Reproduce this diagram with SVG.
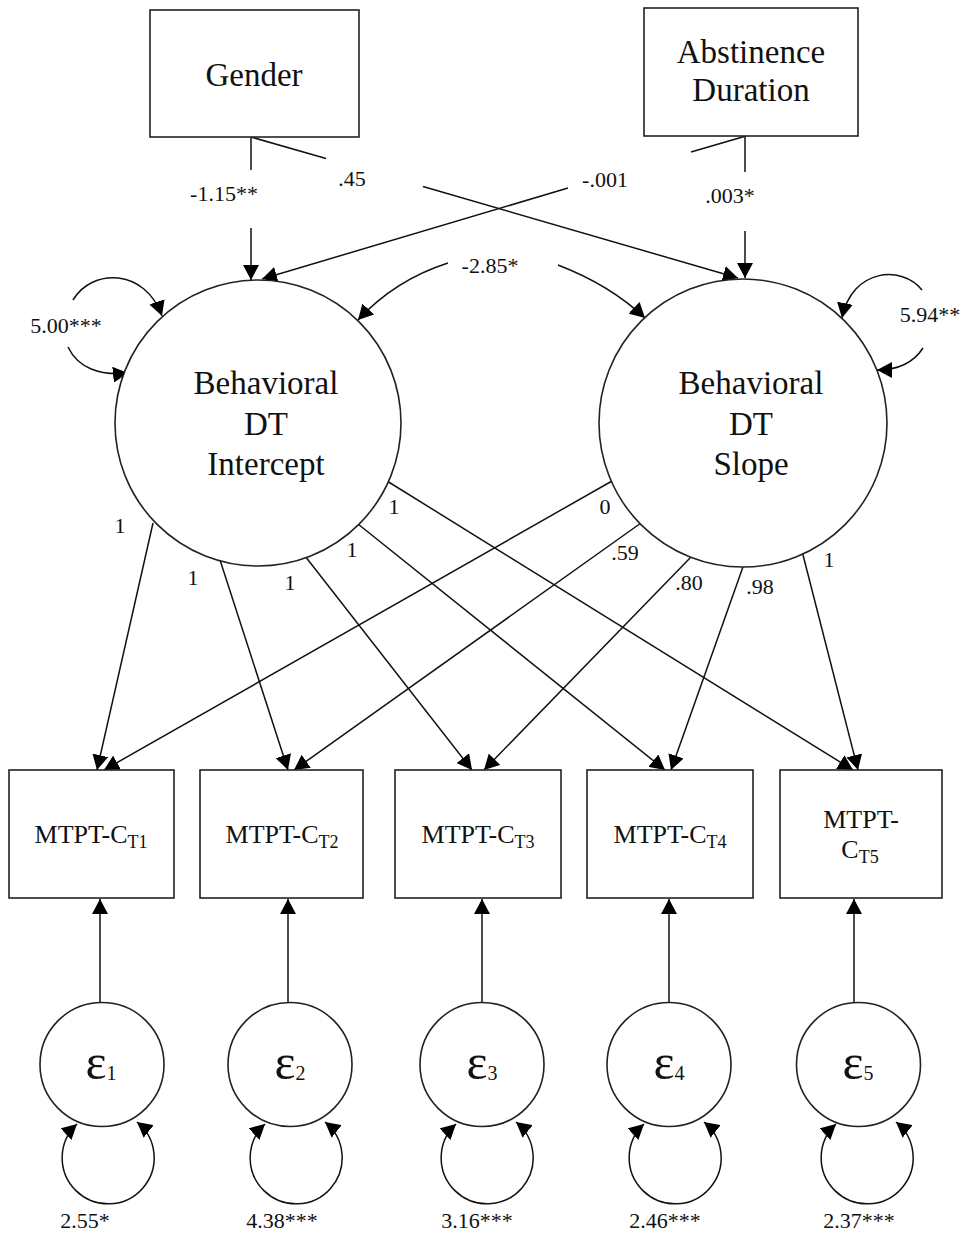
<svg xmlns="http://www.w3.org/2000/svg" width="966" height="1243" viewBox="0 0 966 1243">
<style>
text{font-family:"Liberation Serif","Times New Roman",serif;fill:#111}
.big{font-size:33px}
.lab{font-size:22px}
.obs{font-size:26px}
.sub{font-size:18px}
.eps{font-size:50px}
.esub{font-size:20px}
.shape{fill:#fff;stroke:#222;stroke-width:1.6}
.ln{fill:none;stroke:#111;stroke-width:1.5}
.arr{marker-end:url(#ah)}
.both{marker-start:url(#ah);marker-end:url(#ah)}
</style>
<defs>
<marker id="ah" viewBox="0 0 15 16" refX="15" refY="8" markerWidth="15" markerHeight="16" markerUnits="userSpaceOnUse" orient="auto-start-reverse"><path d="M0,0 L15,8 L0,16 z" fill="#000"/></marker>
</defs>
<rect width="966" height="1243" fill="#fff"/>
<g id="connectors">
<!-- Gender paths -->
<line class="ln" x1="251" y1="137" x2="251" y2="170"/>
<line class="ln arr" x1="251" y1="228" x2="251" y2="280"/>
<line class="ln" x1="251" y1="137" x2="326" y2="158.5"/>
<line class="ln arr" x1="423" y1="186.5" x2="738" y2="278"/>
<!-- Abstinence paths -->
<line class="ln" x1="746" y1="136" x2="691" y2="152"/>
<line class="ln arr" x1="568" y1="188" x2="262" y2="279"/>
<line class="ln" x1="745" y1="136" x2="745" y2="172"/>
<line class="ln arr" x1="745" y1="231" x2="745" y2="278"/>
<!-- self variances of latent factors -->
<path class="ln arr" d="M73,300 C92,268 145,268 162,316"/>
<path class="ln arr" d="M68,347 C78,368 100,376 128,373"/>
<path class="ln arr" d="M922,290 C902,265 852,268 842,318"/>
<path class="ln arr" d="M923,348 C912,365 895,370 877,370"/>
<!-- covariance -->
<path class="ln arr" d="M448,263 Q395,280 358,320"/>
<path class="ln arr" d="M558,265 Q610,285 645,318"/>
<!-- intercept loadings -->
<line class="ln arr" x1="153" y1="523" x2="97" y2="770"/>
<line class="ln arr" x1="220" y1="560" x2="288" y2="770"/>
<line class="ln arr" x1="305" y1="556" x2="472" y2="770"/>
<line class="ln arr" x1="358" y1="524" x2="665" y2="770"/>
<line class="ln arr" x1="387" y1="481" x2="853" y2="770"/>
<!-- slope loadings -->
<line class="ln arr" x1="612" y1="481" x2="104" y2="770"/>
<line class="ln arr" x1="641" y1="523" x2="294" y2="770"/>
<line class="ln arr" x1="691" y1="557" x2="484" y2="770"/>
<line class="ln arr" x1="744" y1="564" x2="671" y2="770"/>
<line class="ln arr" x1="802" y1="551" x2="858" y2="770"/>
<!-- residual paths -->
<line class="ln arr" x1="100" y1="1002" x2="100" y2="899"/>
<line class="ln arr" x1="288" y1="1002" x2="288" y2="899"/>
<line class="ln arr" x1="482" y1="1002" x2="482" y2="899"/>
<line class="ln arr" x1="669" y1="1002" x2="669" y2="899"/>
<line class="ln arr" x1="854" y1="1002" x2="854" y2="899"/>
<!-- residual variances -->
<path class="ln both" d="M77,1124 A46,46 0 1 0 137,1122"/>
<path class="ln both" d="M265,1124 A46,46 0 1 0 325,1122"/>
<path class="ln both" d="M456,1124 A46,46 0 1 0 516,1122"/>
<path class="ln both" d="M644,1124 A46,46 0 1 0 704,1122"/>
<path class="ln both" d="M836,1124 A46,46 0 1 0 896,1122"/>
<!-- labels -->
<text class="lab" x="224" y="201" text-anchor="middle">-1.15**</text>
<text class="lab" x="352" y="186" text-anchor="middle">.45</text>
<text class="lab" x="605" y="187" text-anchor="middle">-.001</text>
<text class="lab" x="730" y="203" text-anchor="middle">.003*</text>
<text class="lab" x="490" y="273" text-anchor="middle">-2.85*</text>
<text class="lab" x="66" y="333" text-anchor="middle">5.00***</text>
<text class="lab" x="930" y="322" text-anchor="middle">5.94**</text>
<text class="lab" x="120" y="533" text-anchor="middle">1</text>
<text class="lab" x="193" y="585" text-anchor="middle">1</text>
<text class="lab" x="290" y="590" text-anchor="middle">1</text>
<text class="lab" x="352" y="557" text-anchor="middle">1</text>
<text class="lab" x="394" y="514" text-anchor="middle">1</text>
<text class="lab" x="605" y="514" text-anchor="middle">0</text>
<text class="lab" x="625" y="560" text-anchor="middle">.59</text>
<text class="lab" x="689" y="590" text-anchor="middle">.80</text>
<text class="lab" x="760" y="594" text-anchor="middle">.98</text>
<text class="lab" x="829" y="567" text-anchor="middle">1</text>
</g>
<g id="gender">
<rect class="shape" x="150" y="10" width="209" height="127"/>
<text class="big" x="254" y="86" text-anchor="middle">Gender</text>
</g>
<g id="abstinence">
<rect class="shape" x="644" y="8" width="214" height="128"/>
<text class="big" x="751" y="63" text-anchor="middle">Abstinence</text>
<text class="big" x="751" y="101" text-anchor="middle">Duration</text>
</g>
<g id="intercept">
<circle class="shape" cx="258" cy="423" r="143"/>
<text class="big" x="266" y="394" text-anchor="middle">Behavioral</text>
<text class="big" x="266" y="435" text-anchor="middle">DT</text>
<text class="big" x="266" y="475" text-anchor="middle">Intercept</text>
</g>
<g id="slope">
<circle class="shape" cx="743" cy="423" r="144"/>
<text class="big" x="751" y="394" text-anchor="middle">Behavioral</text>
<text class="big" x="751" y="435" text-anchor="middle">DT</text>
<text class="big" x="751" y="475" text-anchor="middle">Slope</text>
</g>
<g id="mtpt1">
<rect class="shape" x="9" y="770" width="165" height="128"/>
<text class="obs" x="91" y="843" text-anchor="middle">MTPT-C<tspan class="sub" dy="5">T1</tspan></text>
</g>
<g id="mtpt2">
<rect class="shape" x="200" y="770" width="163" height="128"/>
<text class="obs" x="282" y="843" text-anchor="middle">MTPT-C<tspan class="sub" dy="5">T2</tspan></text>
</g>
<g id="mtpt3">
<rect class="shape" x="395" y="770" width="166" height="128"/>
<text class="obs" x="478" y="843" text-anchor="middle">MTPT-C<tspan class="sub" dy="5">T3</tspan></text>
</g>
<g id="mtpt4">
<rect class="shape" x="587" y="770" width="166" height="128"/>
<text class="obs" x="670" y="843" text-anchor="middle">MTPT-C<tspan class="sub" dy="5">T4</tspan></text>
</g>
<g id="mtpt5">
<rect class="shape" x="780" y="770" width="162" height="128"/>
<text class="obs" x="861" y="828" text-anchor="middle">MTPT-</text>
<text class="obs" x="860" y="858" text-anchor="middle">C<tspan class="sub" dy="5">T5</tspan></text>
</g>
<g id="e1">
<circle class="shape" cx="102" cy="1064.5" r="62"/>
<text class="eps" x="101" y="1079" text-anchor="middle">ε<tspan class="esub" dy="1">1</tspan></text>
<text class="lab" x="85" y="1228" text-anchor="middle">2.55*</text>
</g>
<g id="e2">
<circle class="shape" cx="290" cy="1064.5" r="62"/>
<text class="eps" x="290" y="1079" text-anchor="middle">ε<tspan class="esub" dy="1">2</tspan></text>
<text class="lab" x="282" y="1228" text-anchor="middle">4.38***</text>
</g>
<g id="e3">
<circle class="shape" cx="482" cy="1064.5" r="62"/>
<text class="eps" x="482" y="1079" text-anchor="middle">ε<tspan class="esub" dy="1">3</tspan></text>
<text class="lab" x="477" y="1228" text-anchor="middle">3.16***</text>
</g>
<g id="e4">
<circle class="shape" cx="669" cy="1064.5" r="62"/>
<text class="eps" x="669" y="1079" text-anchor="middle">ε<tspan class="esub" dy="1">4</tspan></text>
<text class="lab" x="665" y="1228" text-anchor="middle">2.46***</text>
</g>
<g id="e5">
<circle class="shape" cx="858.5" cy="1064.5" r="62"/>
<text class="eps" x="858" y="1079" text-anchor="middle">ε<tspan class="esub" dy="1">5</tspan></text>
<text class="lab" x="859" y="1228" text-anchor="middle">2.37***</text>
</g>
</svg>
